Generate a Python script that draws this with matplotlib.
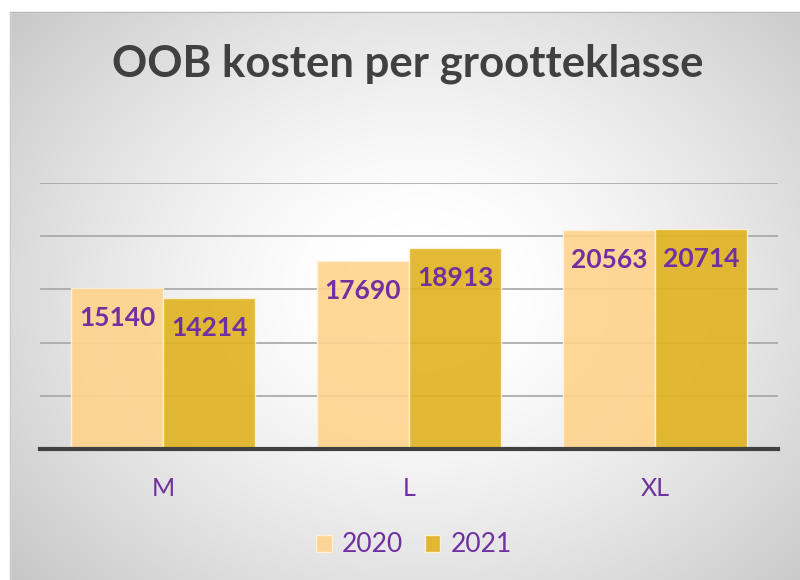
import matplotlib.pyplot as plt
import numpy as np

categories = ['M', 'L', 'XL']
years = ['2020', '2021']
values_2020 = [15140, 17690, 20563]
values_2021 = [14214, 18913, 20714]

purple = '#7030A0'
col_2020 = '#FFD38C'
col_2021 = '#E0B21F'

W, H = 800, 580
fig = plt.figure(figsize=(W / 100, H / 100), dpi=100)

# background: white outer margin, radial grey gradient panel
bg = fig.add_axes([0, 0, 1, 1], zorder=0)
bg.set_xlim(0, W)
bg.set_ylim(H, 0)
bg.axis('off')
yy, xx = np.mgrid[0:H, 0:W]
r = np.sqrt(((xx - 420) / 520) ** 2 + ((yy - 290) / 430) ** 2)
shade = 1 - 0.26 * np.clip(r - 0.15, 0, None) ** 1.3
shade = np.clip(shade, 0.76, 1)
bg.imshow(np.dstack([shade] * 3), extent=(0, W, H, 0), zorder=0)
bg.add_patch(plt.Rectangle((0, 0), W, 12, color='white', zorder=1))
bg.add_patch(plt.Rectangle((0, 0), 10, H, color='white', zorder=1))
bg.plot([10, W], [12, 12], color='#B8B8B8', lw=1, zorder=2)
bg.plot([10, 10], [12, H], color='#C8C8C8', lw=1, zorder=2)

ax = fig.add_axes([40 / W, 1 - 449 / H, 738 / W, 266 / H], zorder=1)
ax.patch.set_alpha(0)

x = np.arange(len(categories))
bw = 0.374
b1 = ax.bar(x - bw / 2, values_2020, bw, color=col_2020, alpha=0.9,
            edgecolor='#FFF3D8', linewidth=1, label=years[0], zorder=2)
b2 = ax.bar(x + bw / 2, values_2021, bw, color=col_2021, alpha=0.9,
            edgecolor='#FFF3D8', linewidth=1, label=years[1], zorder=2)

for bars in (b1, b2):
    for b in bars:
        ax.annotate(f'{int(b.get_height())}', (b.get_x() + b.get_width() / 2, b.get_height()),
                    xytext=(0, -30), textcoords='offset pixels', ha='center', va='center',
                    color=purple, fontsize=19, fontweight='bold', family='Lato', zorder=3)

ax.set_xlim(-0.5, 2.5)
ax.set_ylim(0, 25000)
ax.set_yticks(range(0, 25001, 5000))
ax.yaxis.grid(True, color='#A6A6A6', lw=1.2, zorder=1)
ax.set_yticklabels([])
ax.tick_params(left=False, bottom=False)
ax.set_xticks(x)
ax.set_xticklabels(categories, color=purple, fontsize=18, family='Lato')
ax.tick_params(axis='x', pad=17)
for s in ['top', 'right', 'left']:
    ax.spines[s].set_visible(False)
ax.spines['bottom'].set_color('#404040')
ax.spines['bottom'].set_linewidth(3)
ax.spines['bottom'].set_zorder(4)

fig.text(408 / W, 1 - 64 / H, 'OOB kosten per grootteklasse', ha='center', va='center',
         fontsize=31.5, fontweight='bold', color='#404040', family='Lato')

leg = fig.legend(handles=[b1, b2], loc='center', bbox_to_anchor=(414 / W, 1 - 545 / H),
                 ncol=2, frameon=False, handlelength=0.6, handleheight=0.6,
                 handletextpad=0.4, columnspacing=0.8, prop={'family': 'Lato', 'size': 19})
for t in leg.get_texts():
    t.set_color(purple)

fig.savefig('out.png', dpi=100)
